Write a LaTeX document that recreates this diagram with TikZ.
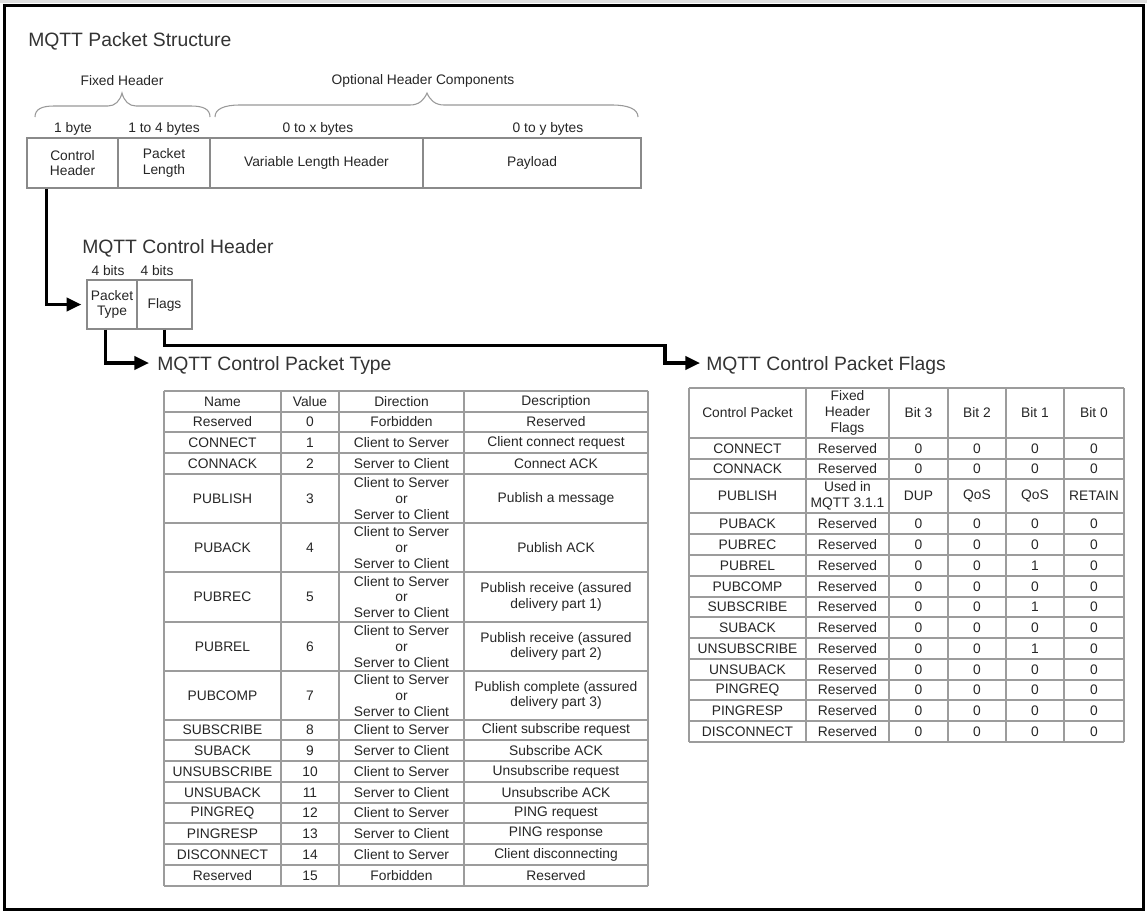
\documentclass[tikz,border=0pt]{standalone}
\usepackage{fontspec}
\setmainfont{Liberation Sans}
\usetikzlibrary{arrows.meta,calc}
\definecolor{txtc}{HTML}{262626}
\definecolor{ttlc}{HTML}{333333}
\definecolor{gridc}{HTML}{9C9C9C}
\definecolor{boxc}{HTML}{8A8A8A}
\definecolor{bracec}{HTML}{999999}
\begin{document}
\begin{tikzpicture}[x=0.75pt,y=-0.75pt,
  every node/.style={text=txtc, font=\fontsize{10.35pt}{11.8pt}\selectfont, inner sep=0pt, align=center},
  ttl/.style={font=\fontsize{14.5pt}{17pt}\selectfont, text=ttlc, anchor=base west},
  cell/.style 2 args={draw=boxc, line width=1.1pt, minimum width=#1*0.75pt, minimum height=#2*0.75pt},
  conn/.style={line width=2.3pt, black},
  arr/.style={conn, -{Triangle[length=11pt,width=10pt]}},
  gline/.style={draw=gridc, line width=1.25pt},
  brc/.style={draw=bracec, line width=0.8pt},
]
\useasboundingbox (0,0) rectangle (1147,914);
\fill[white] (0,0) rectangle (1147,914);
\fill[gray!25] (0,0) rectangle (1147,2.5);
\draw[line width=2.3pt, black] (4.5,5.5) rectangle (1143.5,909.5);

% ---------- packet structure ----------
\node[ttl] (tstruct) at (28,46) {MQTT Packet Structure};
\node (lfixed) at (122,81) {Fixed Header};
\node (lopt) at (423,81) {Optional Header Components};
\draw[brc] (35,117) .. controls (35,109) and (42,106) .. (54,106) -- (108,106)
  .. controls (115,106) and (120,101) .. (122,93)
  .. controls (124,101) and (129,106) .. (136,106) -- (191,106)
  .. controls (203,106) and (210,109) .. (210,117);
\draw[brc] (215,117) .. controls (215,109) and (224,105) .. (240,105) -- (410,105)
  .. controls (419,105) and (424,100) .. (427,93)
  .. controls (430,100) and (435,105) .. (444,105) -- (612,105)
  .. controls (628,105) and (638,109) .. (638,117);
\node (b1) at (73,129) {1 byte};
\node (b2) at (164,129) {1 to 4 bytes};
\node (b3) at (318,129) {0 to x bytes};
\node (b4) at (548,129) {0 to y bytes};
\node[cell={91}{50}] (ch) at (72.5,163) {Control\\Header};
\node[cell={92}{50}] (pl) at (164,163) {Packet\\Length};
\node[cell={213}{50}] (vh) at (316.5,163) {Variable Length Header};
\node[cell={218}{50}] (py) at (532,163) {Payload};

% ---------- control header ----------
\node[ttl] (tch) at (82,253) {MQTT Control Header};
\node (bits1) at (108,271) {4 bits};
\node (bits2) at (157,271) {4 bits};
\node[cell={50}{49}] (pt) at (112,304.5) {Packet\\Type};
\node[cell={55}{49}] (fl) at (164.5,304.5) {Flags};

\node[ttl] (ttype) at (157,370) {MQTT Control Packet Type};
\node[ttl] (tflags) at (706,370) {MQTT Control Packet Flags};

\coordinate (chout) at ($(ch.south west)!0.22!(ch.south east)$);
\coordinate (ptout) at ($(pt.south west)!0.38!(pt.south east)$);
\coordinate (bend) at (665,345.5);
\draw[arr, shorten >=5*0.75pt] (chout) |- (pt.west);
\draw[arr] (ptout) |- ($(ttype.base west)+(-8,-7)$);
\draw[arr] (fl.south) |- (bend) |- ($(tflags.base west)+(-6,-7)$);

% ---------- left table ----------
\foreach \x in {164,281,339,464,648}
  \draw[gline] (\x,391) -- (\x,886);
\foreach \y in {391,412,432,453,474,523,572,622,671,720,740,761,782,803,823,844,865,886}
  \draw[gline] (164,\y) -- (648,\y);
\foreach \i/\yc/\a/\b/\c/\d in {
  0/401.5/Name/Value/Direction/Description,
  1/422/Reserved/0/Forbidden/Reserved,
  2/442.5/CONNECT/1/Client to Server/Client connect request,
  3/463.5/CONNACK/2/Server to Client/Connect ACK,
  4/498.5/PUBLISH/3/{Client to Server\\or\\Server to Client}/Publish a message,
  5/547.5/PUBACK/4/{Client to Server\\or\\Server to Client}/Publish ACK,
  6/597/PUBREC/5/{Client to Server\\or\\Server to Client}/{Publish receive (assured\\delivery part 1)},
  7/646.5/PUBREL/6/{Client to Server\\or\\Server to Client}/{Publish receive (assured\\delivery part 2)},
  8/695.5/PUBCOMP/7/{Client to Server\\or\\Server to Client}/{Publish complete (assured\\delivery part 3)},
  9/730/SUBSCRIBE/8/Client to Server/Client subscribe request,
  10/750.5/SUBACK/9/Server to Client/Subscribe ACK,
  11/771.5/UNSUBSCRIBE/10/Client to Server/Unsubscribe request,
  12/792.5/UNSUBACK/11/Server to Client/Unsubscribe ACK,
  13/813/PINGREQ/12/Client to Server/PING request,
  14/833.5/PINGRESP/13/Server to Client/PING response,
  15/854.5/DISCONNECT/14/Client to Server/Client disconnecting,
  16/875.5/Reserved/15/Forbidden/Reserved}
{
  \node (L\i-a) at (222.5,\yc) {\a};
  \node (L\i-b) at (310,\yc) {\b};
  \node (L\i-c) at (401.5,\yc) {\c};
  \node (L\i-d) at (556,\yc) {\d};
}

% ---------- right table ----------
\foreach \x in {689,806,889,948,1006,1064,1124}
  \draw[gline] (\x,388) -- (\x,742);
\foreach \y in {388,438,459,479,513,534,555,576,597,617,638,659,680,700,721,742}
  \draw[gline] (689,\y) -- (1124,\y);
\foreach \i/\yc/\a/\b/\c/\d/\e/\f in {
  0/413/Control Packet/{Fixed\\Header\\Flags}/Bit 3/Bit 2/Bit 1/Bit 0,
  1/448.5/CONNECT/Reserved/0/0/0/0,
  2/469/CONNACK/Reserved/0/0/0/0,
  3/496/PUBLISH/{Used in\\MQTT 3.1.1}/DUP/QoS/QoS/RETAIN,
  4/523.5/PUBACK/Reserved/0/0/0/0,
  5/544.5/PUBREC/Reserved/0/0/0/0,
  6/565.5/PUBREL/Reserved/0/0/1/0,
  7/586.5/PUBCOMP/Reserved/0/0/0/0,
  8/607/SUBSCRIBE/Reserved/0/0/1/0,
  9/627.5/SUBACK/Reserved/0/0/0/0,
  10/648.5/UNSUBSCRIBE/Reserved/0/0/1/0,
  11/669.5/UNSUBACK/Reserved/0/0/0/0,
  12/690/PINGREQ/Reserved/0/0/0/0,
  13/710.5/PINGRESP/Reserved/0/0/0/0,
  14/731.5/DISCONNECT/Reserved/0/0/0/0}
{
  \node (R\i-a) at (747.5,\yc) {\a};
  \node (R\i-b) at (847.5,\yc) {\b};
  \node (R\i-c) at (918.5,\yc) {\c};
  \node (R\i-d) at (977,\yc) {\d};
  \node (R\i-e) at (1035,\yc) {\e};
  \node (R\i-f) at (1094,\yc) {\f};
}
\end{tikzpicture}
\end{document}
